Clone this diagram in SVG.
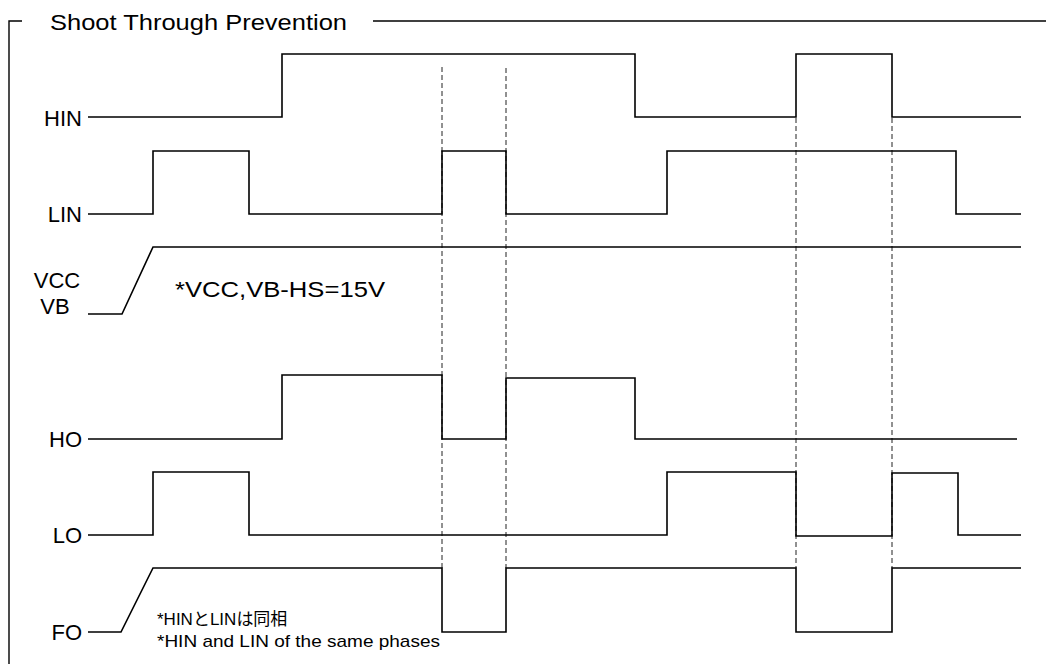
<svg xmlns="http://www.w3.org/2000/svg" width="1046" height="664" viewBox="0 0 1046 664">
<style>
.sig{fill:none;stroke:#000;stroke-width:1.6;stroke-linejoin:miter}
.frame{fill:none;stroke:#000;stroke-width:1.4}
.dash{fill:none;stroke:#222;stroke-width:1;stroke-dasharray:5,3}
.lbl{font-family:"Liberation Sans",Arial,sans-serif;font-size:22px;fill:#000}
.note{font-family:"Liberation Sans","Noto Sans CJK JP",sans-serif;fill:#000}
</style>
<rect width="1046" height="664" fill="#fff"/>
<g id="frame">
<path class="frame" d="M22,21 H9 V664"/>
<path class="frame" d="M373,21 H1046"/>
<text class="lbl" x="50" y="30" font-size="20" textLength="297" lengthAdjust="spacingAndGlyphs">Shoot Through Prevention</text>
</g>
<g id="labels">
<text class="lbl" x="82" y="126" text-anchor="end">HIN</text>
<text class="lbl" x="82" y="222" text-anchor="end">LIN</text>
<text class="lbl" x="57" y="288" text-anchor="middle">VCC</text>
<text class="lbl" x="55" y="314" text-anchor="middle">VB</text>
<text class="lbl" x="82" y="447" text-anchor="end">HO</text>
<text class="lbl" x="82" y="543" text-anchor="end">LO</text>
<text class="lbl" x="82" y="640" text-anchor="end">FO</text>
</g>
<g id="notes">
<text class="note" x="175" y="297" font-size="22" textLength="210" lengthAdjust="spacingAndGlyphs">*VCC,VB-HS=15V</text>
<text class="note" x="157" y="625" font-size="17">*HIN<tspan font-family="Noto Sans CJK JP">と</tspan>LIN<tspan font-family="Noto Sans CJK JP">は同相</tspan></text>
<text class="note" x="157" y="647" font-size="17" textLength="283" lengthAdjust="spacingAndGlyphs">*HIN and LIN of the same phases</text>
</g>
<g id="connectors">
<path class="dash" d="M442,67 V568"/>
<path class="dash" d="M506,68 V568"/>
<path class="dash" d="M796,118 V568"/>
<path class="dash" d="M892,118 V568"/>
</g>
<g id="HIN"><path class="sig" d="M88,117 H282 V54 H635 V117 H796 V54 H892 V117 H1021"/></g>
<g id="LIN"><path class="sig" d="M88,214 H153 V151 H249 V214 H442 V151 H506 V214 H667 V151 H956 V214 H1021"/></g>
<g id="VCC"><path class="sig" d="M88,314 H122 L153,247 H1021"/></g>
<g id="HO"><path class="sig" d="M88,439 H282 V375 H442 V439 H506 V378 H635 V439 H1017"/></g>
<g id="LO"><path class="sig" d="M88,535 H153 V472 H249 V535 H667 V472 H796 V536 H892 V473 H958 V535 H1021"/></g>
<g id="FO"><path class="sig" d="M88,632 H121 L153,568 H442 V632 H506 V568 H796 V632 H892 V568 H1021"/></g>
</svg>
